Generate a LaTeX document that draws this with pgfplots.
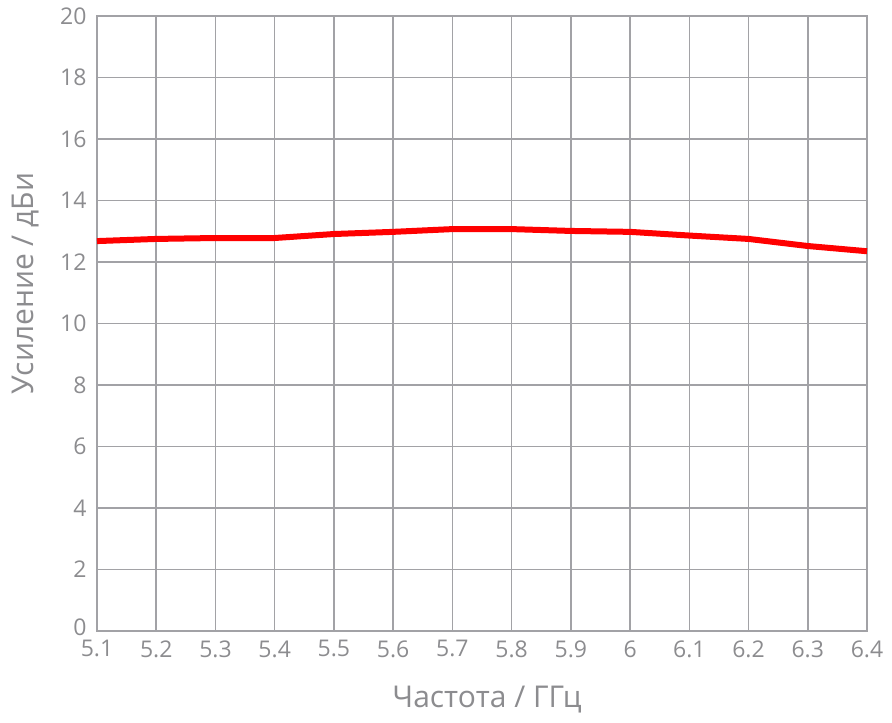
\documentclass[border=0pt]{standalone}
\usepackage{pgfplots}
\pgfplotsset{compat=1.18}
\usepackage{fontspec}
\setmainfont{Open Sans}
\definecolor{gridgray}{HTML}{A2A2A6}
\definecolor{txtgray}{HTML}{8C8C8F}
\begin{document}
\begin{tikzpicture}
\begin{axis}[
  scale only axis,
  width=770bp, height=615bp,
  xmin=5.1, xmax=6.4, ymin=0, ymax=20,
  xtick={5.1,5.2,...,6.4},
  ytick={0,2,...,20},
  xticklabels={5.1,5.2,5.3,5.4,5.5,5.6,5.7,5.8,5.9,6,6.1,6.2,6.3,6.4},
  yticklabels={\raisebox{8bp}{0},2,4,6,8,10,12,14,16,18,20},
  grid=major,
  major grid style={gridgray, line width=1.6bp},
  axis line style={gridgray, line width=1.6bp},
  tick style={draw=none},
  /pgf/number format/assume math mode=true,
  xticklabel style={font=\fontsize{23bp}{26bp}\selectfont, text=txtgray, yshift=-6bp},
  yticklabel style={font=\fontsize{23bp}{26bp}\selectfont, text=txtgray, xshift=-7bp},
  xlabel={Частота / ГГц},
  ylabel={Усиление / дБи},
  xlabel style={font=\fontsize{30bp}{34bp}\selectfont, text=txtgray, yshift=-22bp, xshift=5bp},
  ylabel style={font=\fontsize{30bp}{34bp}\selectfont, text=txtgray, yshift=14bp, xshift=40bp},
  clip=false,
]
\addplot[red, line width=6bp, line join=round] coordinates {
(5.1,12.68) (5.2,12.75) (5.3,12.78) (5.4,12.78) (5.5,12.91) (5.6,12.98)
(5.7,13.07) (5.8,13.07) (5.9,13.01) (6.0,12.98) (6.1,12.86) (6.2,12.75)
(6.3,12.52) (6.4,12.35)
};
\end{axis}
\path[use as bounding box] (current axis.south west) ++(-97bp,-92bp) rectangle ([xshift=25bp,yshift=16bp]current axis.north east);
\end{tikzpicture}
\end{document}
